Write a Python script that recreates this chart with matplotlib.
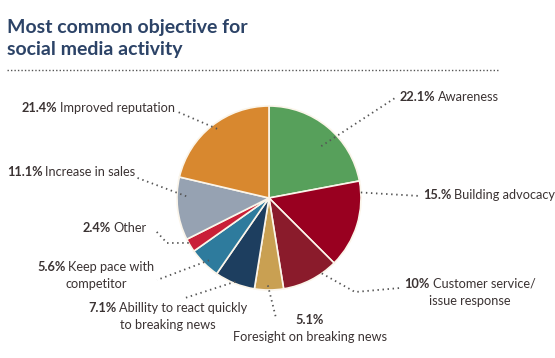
import matplotlib.pyplot as plt
import numpy as np

# Data (clockwise from 12 o'clock)
pct_labels = ['22.1%', '15.%', '10%', '5.1%', '7.1%', '5.6%', '2.4%', '11.1%', '21.4%']
names = ['Awareness', 'Building advocacy', 'Customer service/\nissue response',
         'Foresight on breaking news', 'Abillity to react quickly\nto breaking news',
         'Keep pace with\ncompetitor', 'Other', 'Increase in sales', 'Improved reputation']
shares = [22.1, 15.5, 10, 5.1, 7.1, 5.6, 2.4, 11.1, 21.4]
colors = ['#57a05b', '#990020', '#8a1b2b', '#c9a052', '#1d3e5f',
          '#2e7b9d', '#c91f37', '#96a2b2', '#d8882f']

W, H = 555, 358
plt.rcParams['font.family'] = ['Lato', 'DejaVu Sans']
fig = plt.figure(figsize=(W / 100, H / 100), dpi=100)

def fx(px):
    return px / W

def fy(py):
    return (H - py) / H

# title + dotted rule
tcol = '#2c4367'
fig.text(fx(7), fy(27), 'Most common objective for', fontsize=14, fontweight='bold',
         color=tcol, va='center')
fig.text(fx(7), fy(50), 'social media activity', fontsize=14, fontweight='bold',
         color=tcol, va='center')
fig.add_artist(plt.Line2D([fx(7), fx(498)], [fy(70), fy(70)], color='#555555',
                          lw=1, ls=(0, (1, 1.5)), transform=fig.transFigure))

# pie axes: centre at (269, 198) px, radius 92 px
R = 92
half = 100
ax = fig.add_axes([fx(269 - half), fy(198 + half), 2 * half / W, 2 * half / H])
wedges, _ = ax.pie(shares, colors=colors, startangle=90, counterclock=False,
                   radius=1, wedgeprops=dict(edgecolor='#fbf5ea', linewidth=1.2))
lim = half / R
ax.set_xlim(-lim, lim)
ax.set_ylim(-lim, lim)
ax.set_aspect('equal')
ax.axis('off')

# label placement: (mode, x, y) in pixels; mode 'l' = left aligned, 'c' = centred
label_pos = [('l', 400, 97), ('l', 423, 195), ('c', 470, 284), ('c', 310, 320),
             ('c', 168, 308), ('c', 96, 267), ('l', 83, 228), ('l', 7, 172),
             ('l', 22, 108)]
# leader line: fraction through wedge, radius fraction, optional bend, end point (px)
leaders = [(0.57, 0.8, None, (395, 98)), (0.13, 1.0, None, (420, 196)),
           (0.28, 1.0, (355, 292), (400, 288)), (0.54, 0.95, None, (276, 318)),
           (0.5, 0.98, None, (185, 298)), (0.46, 0.94, None, (157, 280)),
           (0.7, 1.0, (167, 243), (155, 230)), (0.7, 0.9, None, (135, 177)),
           (0.52, 0.94, None, (178, 112))]

txtcol = '#3b3333'
fs = 9.2
lh = 17
renderer = fig.canvas.get_renderer()

def width(s, weight):
    t = fig.text(0, 0, s, fontsize=fs, fontweight=weight)
    w = t.get_window_extent(renderer).width
    t.remove()
    return w

to_fig = ax.transData + fig.transFigure.inverted()

for w, pl, nm, (mode, x, y), (fr, rf, bend, end) in zip(wedges, pct_labels, names,
                                                        label_pos, leaders):
    lines = nm.split('\n')
    first = lines[0]
    if nm.startswith('Foresight'):
        # percentage alone on first line, text below
        fig.text(fx(x), fy(y), pl, fontsize=fs, fontweight='bold', color=txtcol,
                 ha='center', va='center')
        fig.text(fx(x), fy(y + lh), first, fontsize=fs, color=txtcol,
                 ha='center', va='center')
    else:
        wb = width(pl, 'bold')
        sp = width(' ', 'normal') * 0.8
        wr = width(first, 'normal')
        x0 = x if mode == 'l' else x - (wb + sp + wr) / 2
        fig.text(fx(x0), fy(y), pl, fontsize=fs, fontweight='bold', color=txtcol,
                 ha='left', va='center')
        fig.text(fx(x0 + wb + sp), fy(y), first, fontsize=fs, color=txtcol,
                 ha='left', va='center')
        for i, ln in enumerate(lines[1:], 1):
            fig.text(fx(x), fy(y + i * lh), ln, fontsize=fs, color=txtcol,
                     ha='center', va='center')
    # anchor inside wedge, then optional bend, then label end
    a1, a2 = w.theta1, w.theta2
    ang = np.deg2rad(a2 - fr * (a2 - a1))
    sx, sy = to_fig.transform((rf * np.cos(ang), rf * np.sin(ang)))
    pts = [(sx, sy)]
    if bend is not None:
        pts.append((fx(bend[0]), fy(bend[1])))
    pts.append((fx(end[0]), fy(end[1])))
    xs, ys = zip(*pts)
    fig.add_artist(plt.Line2D(xs, ys, color='#555555', lw=1.3, ls=(0, (0.8, 2)),
                              transform=fig.transFigure))

fig.savefig('out.png', dpi=100, facecolor='white')
